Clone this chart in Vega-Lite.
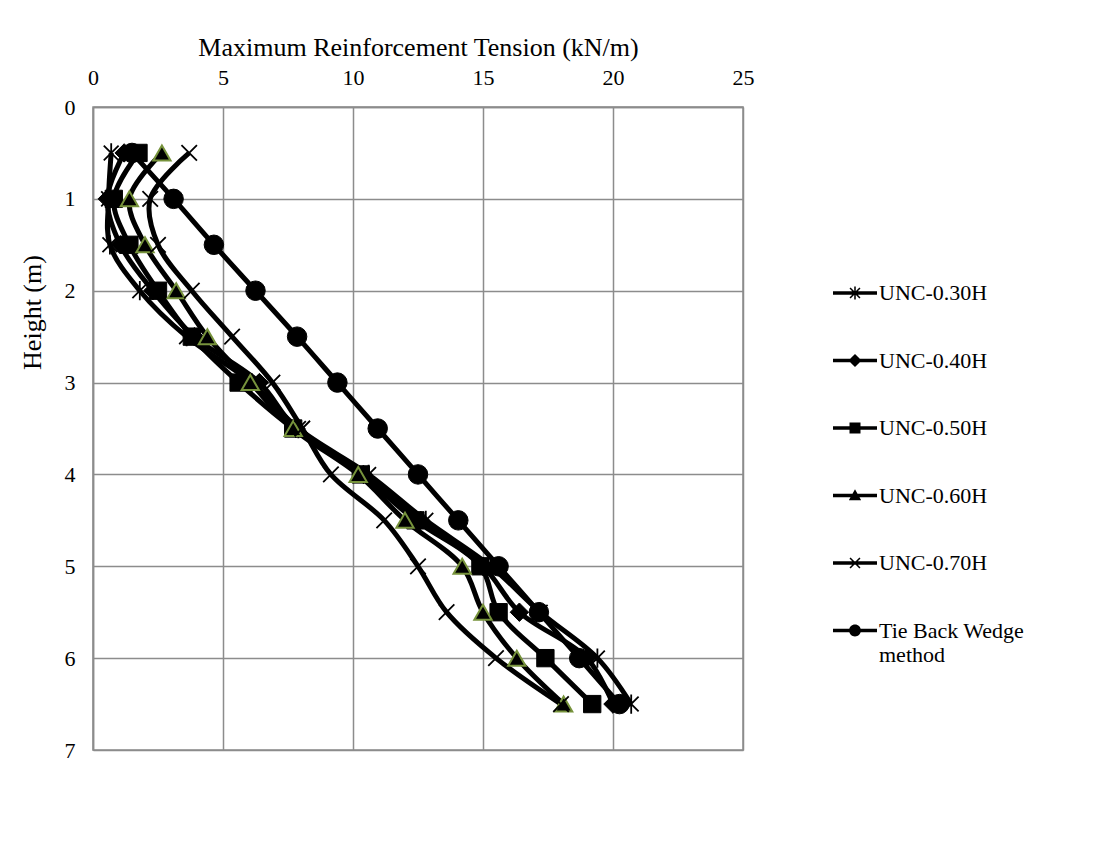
{
  "$schema": "https://vega.github.io/schema/vega-lite/v6.json",
  "width": 650,
  "height": 643,
  "autosize": {"type": "none"},
  "padding": {"left": 93, "top": 107, "right": 364, "bottom": 106},
  "background": "white",
  "config": {
    "font": "Liberation Serif",
    "view": {"stroke": "#8c8c8c", "strokeWidth": 1.5}
  },
  "datasets": {
    "pts": [
      {"series": "UNC-0.30H", "h": 0.5, "t": 0.7},
      {"series": "UNC-0.30H", "h": 1.0, "t": 0.6},
      {"series": "UNC-0.30H", "h": 1.5, "t": 0.65},
      {"series": "UNC-0.30H", "h": 2.0, "t": 1.8},
      {"series": "UNC-0.30H", "h": 2.5, "t": 3.6},
      {"series": "UNC-0.30H", "h": 3.0, "t": 6.1},
      {"series": "UNC-0.30H", "h": 3.5, "t": 7.9},
      {"series": "UNC-0.30H", "h": 4.0, "t": 10.6},
      {"series": "UNC-0.30H", "h": 4.5, "t": 12.8},
      {"series": "UNC-0.30H", "h": 5.0, "t": 15.3},
      {"series": "UNC-0.30H", "h": 5.5, "t": 17.2},
      {"series": "UNC-0.30H", "h": 6.0, "t": 19.4},
      {"series": "UNC-0.30H", "h": 6.5, "t": 20.7},
      {"series": "UNC-0.40H", "h": 0.5, "t": 1.2},
      {"series": "UNC-0.40H", "h": 1.0, "t": 0.55},
      {"series": "UNC-0.40H", "h": 1.5, "t": 1.05},
      {"series": "UNC-0.40H", "h": 2.0, "t": 2.3},
      {"series": "UNC-0.40H", "h": 2.5, "t": 3.9},
      {"series": "UNC-0.40H", "h": 3.0, "t": 6.4},
      {"series": "UNC-0.40H", "h": 3.5, "t": 7.8},
      {"series": "UNC-0.40H", "h": 4.0, "t": 10.4},
      {"series": "UNC-0.40H", "h": 4.5, "t": 12.6},
      {"series": "UNC-0.40H", "h": 5.0, "t": 15.0},
      {"series": "UNC-0.40H", "h": 5.5, "t": 16.4},
      {"series": "UNC-0.40H", "h": 6.0, "t": 19.0},
      {"series": "UNC-0.40H", "h": 6.5, "t": 20.0},
      {"series": "UNC-0.50H", "h": 0.5, "t": 1.75},
      {"series": "UNC-0.50H", "h": 1.0, "t": 0.8},
      {"series": "UNC-0.50H", "h": 1.5, "t": 1.4},
      {"series": "UNC-0.50H", "h": 2.0, "t": 2.5},
      {"series": "UNC-0.50H", "h": 2.5, "t": 3.8},
      {"series": "UNC-0.50H", "h": 3.0, "t": 5.6},
      {"series": "UNC-0.50H", "h": 3.5, "t": 7.7},
      {"series": "UNC-0.50H", "h": 4.0, "t": 10.3},
      {"series": "UNC-0.50H", "h": 4.5, "t": 12.4},
      {"series": "UNC-0.50H", "h": 5.0, "t": 14.9},
      {"series": "UNC-0.50H", "h": 5.5, "t": 15.6},
      {"series": "UNC-0.50H", "h": 6.0, "t": 17.4},
      {"series": "UNC-0.50H", "h": 6.5, "t": 19.2},
      {"series": "UNC-0.60H", "h": 0.5, "t": 2.65},
      {"series": "UNC-0.60H", "h": 1.0, "t": 1.4},
      {"series": "UNC-0.60H", "h": 1.5, "t": 2.0},
      {"series": "UNC-0.60H", "h": 2.0, "t": 3.2},
      {"series": "UNC-0.60H", "h": 2.5, "t": 4.4},
      {"series": "UNC-0.60H", "h": 3.0, "t": 6.05},
      {"series": "UNC-0.60H", "h": 3.5, "t": 7.7},
      {"series": "UNC-0.60H", "h": 4.0, "t": 10.2},
      {"series": "UNC-0.60H", "h": 4.5, "t": 12.0},
      {"series": "UNC-0.60H", "h": 5.0, "t": 14.2},
      {"series": "UNC-0.60H", "h": 5.5, "t": 15.0},
      {"series": "UNC-0.60H", "h": 6.0, "t": 16.3},
      {"series": "UNC-0.60H", "h": 6.5, "t": 18.1},
      {"series": "UNC-0.70H", "h": 0.5, "t": 3.7},
      {"series": "UNC-0.70H", "h": 1.0, "t": 2.2},
      {"series": "UNC-0.70H", "h": 1.5, "t": 2.5},
      {"series": "UNC-0.70H", "h": 2.0, "t": 3.8},
      {"series": "UNC-0.70H", "h": 2.5, "t": 5.35},
      {"series": "UNC-0.70H", "h": 3.0, "t": 6.9},
      {"series": "UNC-0.70H", "h": 3.5, "t": 8.05},
      {"series": "UNC-0.70H", "h": 4.0, "t": 9.15},
      {"series": "UNC-0.70H", "h": 4.5, "t": 11.2},
      {"series": "UNC-0.70H", "h": 5.0, "t": 12.5},
      {"series": "UNC-0.70H", "h": 5.5, "t": 13.6},
      {"series": "UNC-0.70H", "h": 6.0, "t": 15.5},
      {"series": "UNC-0.70H", "h": 6.5, "t": 18.0},
      {"series": "Tie Back Wedge method", "h": 0.5, "t": 1.5},
      {"series": "Tie Back Wedge method", "h": 1.0, "t": 3.1},
      {"series": "Tie Back Wedge method", "h": 1.5, "t": 4.65},
      {"series": "Tie Back Wedge method", "h": 2.0, "t": 6.25},
      {"series": "Tie Back Wedge method", "h": 2.5, "t": 7.85},
      {"series": "Tie Back Wedge method", "h": 3.0, "t": 9.4},
      {"series": "Tie Back Wedge method", "h": 3.5, "t": 10.95},
      {"series": "Tie Back Wedge method", "h": 4.0, "t": 12.5},
      {"series": "Tie Back Wedge method", "h": 4.5, "t": 14.05},
      {"series": "Tie Back Wedge method", "h": 5.0, "t": 15.6},
      {"series": "Tie Back Wedge method", "h": 5.5, "t": 17.15},
      {"series": "Tie Back Wedge method", "h": 6.0, "t": 18.7},
      {"series": "Tie Back Wedge method", "h": 6.5, "t": 20.25}
    ]
  },
  "data": {"name": "pts"},
  "encoding": {
    "x": {
      "field": "t",
      "type": "quantitative",
      "scale": {"domain": [0, 25], "nice": false, "zero": false},
      "axis": {
        "orient": "top",
        "title": "Maximum Reinforcement Tension  (kN/m)",
        "titleFont": "Liberation Serif",
        "titleFontSize": 26,
        "titleFontWeight": "normal",
        "titleColor": "black",
        "titlePadding": 6,
        "values": [0, 5, 10, 15, 20, 25],
        "labelFont": "Liberation Serif",
        "labelFontSize": 22,
        "labelColor": "black",
        "labelPadding": 18,
        "labelFlush": false,
        "ticks": false,
        "grid": true,
        "gridColor": "#8c8c8c",
        "gridWidth": 1.5,
        "domainColor": "#8c8c8c",
        "domainWidth": 1.5
      }
    },
    "y": {
      "field": "h",
      "type": "quantitative",
      "scale": {"domain": [0, 7], "reverse": true, "nice": false, "zero": false},
      "axis": {
        "title": "Height (m)",
        "titleFont": "Liberation Serif",
        "titleFontSize": 26,
        "titleFontWeight": "normal",
        "titleColor": "black",
        "titleX": -48,
        "titleY": 205,
        "values": [0, 1, 2, 3, 4, 5, 6, 7],
        "labelFont": "Liberation Serif",
        "labelFontSize": 22,
        "labelColor": "black",
        "labelPadding": 18,
        "labelFlush": false,
        "ticks": false,
        "grid": true,
        "gridColor": "#8c8c8c",
        "gridWidth": 1.5,
        "domainColor": "#8c8c8c",
        "domainWidth": 1.5
      }
    }
  },
  "layer": [
    {
      "mark": {"type": "line", "interpolate": "catmull-rom", "strokeWidth": 5, "color": "black"},
      "encoding": {"detail": {"field": "series"}, "order": {"field": "h", "type": "quantitative"}}
    },
    {
      "transform": [{"filter": "datum.series === 'UNC-0.30H'"}],
      "mark": {"type": "point", "shape": "M-1,-1L1,1M-1,1L1,-1M0,-1.3L0,1.3", "size": 220, "filled": false, "stroke": "black", "strokeWidth": 1.8, "opacity": 1}
    },
    {
      "transform": [{"filter": "datum.series === 'UNC-0.40H'"}],
      "mark": {"type": "point", "shape": "diamond", "size": 340, "filled": true, "fill": "black", "stroke": "black", "strokeWidth": 1, "opacity": 1}
    },
    {
      "transform": [{"filter": "datum.series === 'UNC-0.50H'"}],
      "mark": {"type": "point", "shape": "square", "size": 300, "filled": true, "fill": "black", "stroke": "black", "strokeWidth": 1, "opacity": 1}
    },
    {
      "transform": [{"filter": "datum.series === 'UNC-0.60H'"}],
      "mark": {"type": "point", "shape": "triangle-up", "size": 300, "filled": true, "fill": "black", "stroke": "#77933C", "strokeWidth": 2, "opacity": 1}
    },
    {
      "transform": [{"filter": "datum.series === 'UNC-0.70H'"}],
      "mark": {"type": "point", "shape": "M-1,-1L1,1M-1,1L1,-1", "size": 240, "filled": false, "stroke": "black", "strokeWidth": 1.8, "opacity": 1}
    },
    {
      "transform": [{"filter": "datum.series === 'Tie Back Wedge method'"}],
      "mark": {"type": "point", "shape": "circle", "size": 380, "filled": true, "fill": "black", "stroke": "black", "strokeWidth": 1, "opacity": 1}
    },
    {
      "mark": {"type": "point", "filled": true, "color": "black", "opacity": 0},
      "encoding": {
        "shape": {
          "field": "series",
          "type": "nominal",
          "scale": {
            "domain": ["UNC-0.30H", "UNC-0.40H", "UNC-0.50H", "UNC-0.60H", "UNC-0.70H", "Tie Back Wedge method"],
            "range": [
              "M-1,-0.08H1V0.08H-1ZM-0.035,-0.3H0.035V0.3H-0.035ZM-0.2,-0.25L0.25,0.2L0.2,0.25L-0.25,-0.2ZM-0.25,0.2L0.2,-0.25L0.25,-0.2L-0.2,0.25Z",
              "M-1,-0.08H1V0.08H-1ZM0,-0.3L0.3,0L0,0.3L-0.3,0Z",
              "M-1,-0.08H1V0.08H-1ZM-0.25,-0.25H0.25V0.25H-0.25Z",
              "M-1,-0.08H1V0.08H-1ZM0,-0.28L0.28,0.22H-0.28Z",
              "M-1,-0.08H1V0.08H-1ZM-0.2,-0.25L0.25,0.2L0.2,0.25L-0.25,-0.2ZM-0.25,0.2L0.2,-0.25L0.25,-0.2L-0.2,0.25Z",
              "M-1,-0.08H1V0.08H-1ZM-0.27,0A0.27,0.27 0 1,1 0.27,0A0.27,0.27 0 1,1 -0.27,0Z"
            ]
          },
          "legend": {
            "orient": "none",
            "legendX": 740,
            "legendY": 164,
            "title": null,
            "padding": 0,
            "labelFont": "Liberation Serif",
            "labelFontSize": 22,
            "labelColor": "black",
            "labelLimit": 400,
            "labelOffset": 2,
            "labelExpr": "datum.label === 'Tie Back Wedge method' ? ['Tie Back Wedge', 'method'] : datum.label",
            "symbolSize": 1936,
            "symbolOpacity": 1,
            "symbolFillColor": "black",
            "symbolStrokeColor": "black",
            "symbolStrokeWidth": 0,
            "rowPadding": 34.5,
            "encode": {
              "labels": {"update": {"dy": {"signal": "datum.value === 'Tie Back Wedge method' ? 12 : 0"}}}
            }
          }
        }
      }
    }
  ]
}
